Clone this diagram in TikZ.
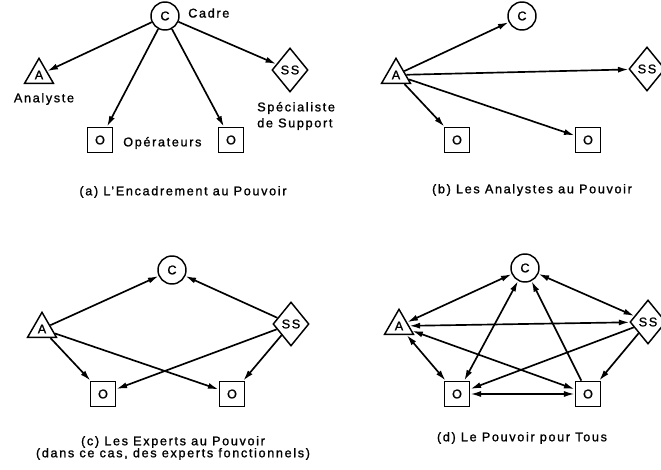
\documentclass[tikz,border=0pt]{standalone}
\usepackage{fontspec}
\setmainfont{Liberation Sans}[LetterSpace=13, FakeBold=1.2]
\usetikzlibrary{shapes.geometric,arrows.meta}
\tikzset{
  lbl/.style={font=\fontsize{9.5pt}{9pt}\selectfont, inner sep=0pt},
  circ/.style={circle, draw, line width=1.1pt, minimum size=21pt, inner sep=0pt, lbl},
  sq/.style={rectangle, draw, line width=1.1pt, minimum size=19pt, inner sep=0pt, lbl},
  tri/.style={regular polygon, regular polygon sides=3, draw, line width=1.1pt, minimum size=25pt, inner sep=0pt, lbl},
  dia/.style={diamond, draw, line width=1.1pt, minimum width=27pt, minimum height=33pt, inner sep=0pt, lbl},
  tip/.tip={Latex[length=8pt,width=4.5pt]},
  arr/.style={-tip, line width=1.25pt},
  darr/.style={tip-tip, line width=1.25pt},
}
\begin{document}
\begin{tikzpicture}[x=0.75pt,y=-0.75pt]
\useasboundingbox (0,0) rectangle (661,470);
% panel a
\node[circ] (aC) at (165,16) {C};
\node[tri] (aA) at (39,75) {A};
\node[dia] (aS) at (290,70) {SS};
\node[sq] (aO1) at (100,140) {O};
\node[sq] (aO2) at (231,140) {O};
\draw[arr] (aC) -- (aA);
\draw[arr] (aC) -- (aO1);
\draw[arr] (aC) -- (aO2);
\draw[arr] (aC) -- (aS);
\node[lbl, anchor=west] (tCadre) at (188,13) {Cadre};
\node[lbl] (tAna) at (44,99) {Analyste};
\node[lbl, anchor=west, align=left] (tSpec) at (257,116) {Spécialiste\\[3pt]de Support};
\node[lbl, anchor=west] (tOp) at (123,143) {Opérateurs};
\node[lbl] (capa) at (183,192) {(a) L'Encadrement au Pouvoir};
% panel b
\node[circ] (bC) at (522,16) {C};
\node[tri] (bA) at (396,75) {A};
\node[dia] (bS) at (647,69) {SS};
\node[sq] (bO1) at (457,140) {O};
\node[sq] (bO2) at (588,140) {O};
\draw[arr] (bA) -- (bC);
\draw[arr] (bA) -- (bS);
\draw[arr] (bA) -- (bO1);
\draw[arr] (bA) -- (bO2);
\node[lbl] (capb) at (532,190) {(b) Les Analystes au Pouvoir};
% panel c
\node[circ] (cC) at (172,270) {C};
\node[tri] (cA) at (42,329) {A};
\node[dia] (cS) at (291,324) {SS};
\node[sq] (cO1) at (103,394) {O};
\node[sq] (cO2) at (232,394) {O};
\draw[arr] (cA) -- (cC);
\draw[arr] (cS) -- (cC);
\draw[arr] (cA) -- (cO1);
\draw[arr] (cA) -- (cO2);
\draw[arr] (cS) -- (cO1);
\draw[arr] (cS) -- (cO2);
\node[lbl, align=center] (capc) at (173,448) {(c) Les Experts au Pouvoir\\[0pt](dans ce cas, des experts fonctionnels)};
% panel d
\node[circ] (dC) at (525,268) {C};
\node[tri] (dA) at (399,326) {A};
\node[dia] (dS) at (648,322) {SS};
\node[sq] (dO1) at (457,394) {O};
\node[sq] (dO2) at (588,394) {O};
\draw[darr] (dA) -- (dC);
\draw[darr] (dC) -- (dS);
\draw[darr] (dA) -- (dS);
\draw[darr] (dA) -- (dO1);
\draw[darr] (dA) -- (dO2);
\draw[darr] (dO1) -- (dC);
\draw[arr] (dO2) -- (dC);
\draw[arr] (dS) -- (dO1);
\draw[arr] (dS) -- (dO2);
\draw[darr] (dO1) -- (dO2);
\node[lbl] (capd) at (522,438) {(d) Le Pouvoir pour Tous};
\end{tikzpicture}
\end{document}
